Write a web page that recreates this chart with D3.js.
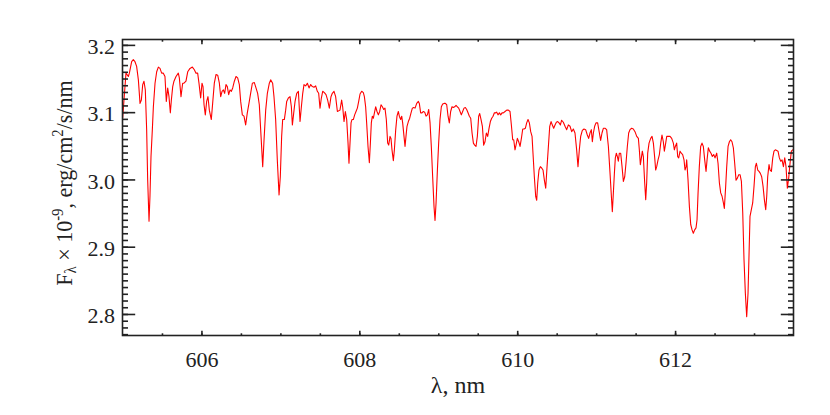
<!DOCTYPE html>
<html>
<head>
<meta charset="utf-8">
<script src="https://cdn.jsdelivr.net/npm/d3@7"></script>
<style>
  body { margin: 0; background: #fff; }
</style>
</head>
<body>
<script>
// Spectrum (nm, flux x 1e-9).
var wavelength = [
  605.002, 605.044, 605.074, 605.087, 605.116, 605.137, 605.158, 605.179, 605.201, 605.222,
  605.239, 605.256, 605.272, 605.289, 605.306, 605.319, 605.336, 605.348, 605.361, 605.378,
  605.391, 605.412, 605.433, 605.454, 605.475, 605.496, 605.517, 605.538, 605.555, 605.572,
  605.589, 605.606, 605.619, 605.636, 605.652, 605.678, 605.707, 605.720, 605.741, 605.762,
  605.779, 605.804, 605.826, 605.855, 605.885, 605.910, 605.931, 605.952, 605.969, 605.990,
  606.007, 606.020, 606.033, 606.049, 606.066, 606.083, 606.100, 606.125, 606.142, 606.163,
  606.185, 606.206, 606.227, 606.244, 606.261, 606.278, 606.294, 606.311, 606.328, 606.345,
  606.362, 606.379, 606.396, 606.417, 606.438, 606.459, 606.480, 606.497, 606.518, 606.539,
  606.560, 606.581, 606.602, 606.623, 606.645, 606.670, 606.691, 606.712, 606.733, 606.755,
  606.776, 606.793, 606.814, 606.835, 606.860, 606.877, 606.902, 606.919, 606.940, 606.961,
  606.983, 606.999, 607.016, 607.029, 607.050, 607.067, 607.080, 607.101, 607.122, 607.139,
  607.152, 607.169, 607.186, 607.207, 607.228, 607.249, 607.266, 607.283, 607.299, 607.320,
  607.342, 607.363, 607.384, 607.405, 607.426, 607.447, 607.468, 607.485, 607.502, 607.519,
  607.536, 607.557, 607.578, 607.599, 607.620, 607.641, 607.658, 607.679, 607.700, 607.722,
  607.755, 607.776, 607.789, 607.806, 607.823, 607.840, 607.857, 607.869, 607.882, 607.895,
  607.907, 607.924, 607.941, 607.958, 607.975, 607.992, 608.009, 608.030, 608.051, 608.064,
  608.080, 608.093, 608.110, 608.127, 608.140, 608.152, 608.165, 608.178, 608.195, 608.207,
  608.224, 608.241, 608.258, 608.275, 608.292, 608.309, 608.325, 608.342, 608.359, 608.372,
  608.389, 608.401, 608.414, 608.431, 608.444, 608.461, 608.477, 608.494, 608.507, 608.524,
  608.537, 608.549, 608.566, 608.579, 608.591, 608.604, 608.621, 608.638, 608.655, 608.672,
  608.689, 608.706, 608.727, 608.748, 608.760, 608.777, 608.794, 608.811, 608.828, 608.845,
  608.862, 608.879, 608.896, 608.912, 608.929, 608.946, 608.959, 608.972, 608.989, 609.005,
  609.022, 609.039, 609.056, 609.073, 609.090, 609.107, 609.124, 609.140, 609.157, 609.174,
  609.191, 609.208, 609.225, 609.242, 609.259, 609.276, 609.292, 609.309, 609.326, 609.343,
  609.360, 609.377, 609.394, 609.411, 609.428, 609.445, 609.461, 609.478, 609.495, 609.512,
  609.525, 609.542, 609.559, 609.575, 609.592, 609.609, 609.626, 609.643, 609.660, 609.677,
  609.694, 609.711, 609.727, 609.740, 609.757, 609.774, 609.791, 609.808, 609.825, 609.846,
  609.867, 609.888, 609.909, 609.926, 609.943, 609.956, 609.972, 609.985, 610.002, 610.019,
  610.036, 610.053, 610.070, 610.087, 610.103, 610.120, 610.137, 610.154, 610.171, 610.188,
  610.200, 610.217, 610.234, 610.247, 610.260, 610.276, 610.293, 610.310, 610.327, 610.344,
  610.361, 610.378, 610.395, 610.412, 610.429, 610.445, 610.462, 610.479, 610.496, 610.513,
  610.530, 610.547, 610.563, 610.584, 610.606, 610.627, 610.648, 610.669, 610.690, 610.711,
  610.732, 610.753, 610.770, 610.787, 610.804, 610.825, 610.846, 610.867, 610.888, 610.905,
  610.922, 610.939, 610.952, 610.965, 610.981, 610.998, 611.019, 611.041, 611.057, 611.074,
  611.091, 611.112, 611.133, 611.155, 611.176, 611.193, 611.205, 611.218, 611.231, 611.243,
  611.256, 611.269, 611.281, 611.294, 611.311, 611.328, 611.345, 611.362, 611.378, 611.395,
  611.412, 611.429, 611.450, 611.471, 611.492, 611.514, 611.535, 611.547, 611.560, 611.573,
  611.585, 611.598, 611.615, 611.628, 611.640, 611.653, 611.670, 611.691, 611.708, 611.725,
  611.742, 611.754, 611.767, 611.784, 611.801, 611.818, 611.834, 611.851, 611.864, 611.881,
  611.894, 611.915, 611.936, 611.957, 611.978, 611.991, 612.003, 612.020, 612.033, 612.046,
  612.063, 612.079, 612.096, 612.113, 612.126, 612.139, 612.147, 612.164, 612.181, 612.198,
  612.215, 612.231, 612.248, 612.265, 612.278, 612.291, 612.307, 612.324, 612.341, 612.358,
  612.375, 612.392, 612.405, 612.421, 612.438, 612.455, 612.472, 612.489, 612.506, 612.527,
  612.544, 612.561, 612.578, 612.595, 612.612, 612.624, 612.641, 612.654, 612.671, 612.688,
  612.704, 612.721, 612.738, 612.755, 612.772, 612.789, 612.806, 612.823, 612.840, 612.857,
  612.873, 612.890, 612.907, 612.924, 612.937, 612.949, 612.966, 612.983, 613.000, 613.017,
  613.030, 613.047, 613.063, 613.080, 613.097, 613.114, 613.131, 613.148, 613.161, 613.173,
  613.190, 613.203, 613.220, 613.237, 613.253, 613.270, 613.287, 613.304, 613.321, 613.338,
  613.355, 613.372, 613.389, 613.405, 613.422, 613.439, 613.456, 613.473, 613.490, 613.498
];
var flux = [
  3.091, 3.158, 3.153, 3.158, 3.175, 3.178, 3.175, 3.168, 3.148, 3.113,
  3.118, 3.141, 3.146, 3.133, 3.074, 2.999, 2.938, 2.975, 3.034, 3.074,
  3.108, 3.143, 3.160, 3.167, 3.165, 3.158, 3.158, 3.153, 3.116, 3.136,
  3.123, 3.099, 3.118, 3.138, 3.146, 3.153, 3.158, 3.151, 3.123, 3.143,
  3.143, 3.146, 3.160, 3.165, 3.167, 3.163, 3.158, 3.158, 3.143, 3.121,
  3.143, 3.138, 3.111, 3.096, 3.116, 3.123, 3.103, 3.089, 3.113, 3.143,
  3.156, 3.155, 3.143, 3.123, 3.131, 3.133, 3.128, 3.141, 3.138, 3.126,
  3.133, 3.131, 3.136, 3.146, 3.153, 3.151, 3.141, 3.116, 3.096, 3.094,
  3.081, 3.099, 3.113, 3.128, 3.143, 3.144, 3.136, 3.128, 3.111, 3.064,
  3.019, 3.059, 3.103, 3.128, 3.143, 3.148, 3.143, 3.123, 3.089, 3.029,
  2.977, 3.004, 3.064, 3.089, 3.089, 3.103, 3.116, 3.121, 3.123, 3.108,
  3.081, 3.099, 3.116, 3.128, 3.131, 3.086, 3.108, 3.128, 3.141, 3.139,
  3.143, 3.136, 3.141, 3.138, 3.137, 3.139, 3.131, 3.128, 3.106, 3.121,
  3.131, 3.129, 3.126, 3.118, 3.106, 3.123, 3.128, 3.131, 3.123, 3.101,
  3.103, 3.118, 3.108, 3.086, 3.101, 3.089, 3.054, 3.024, 3.054, 3.084,
  3.089, 3.089, 3.096, 3.101, 3.106, 3.116, 3.127, 3.131, 3.129, 3.123,
  3.108, 3.084, 3.049, 3.025, 3.054, 3.084, 3.094, 3.091, 3.101, 3.108,
  3.101, 3.096, 3.101, 3.111, 3.108, 3.104, 3.106, 3.089, 3.054, 3.051,
  3.064, 3.061, 3.044, 3.028, 3.044, 3.074, 3.094, 3.101, 3.094, 3.089,
  3.094, 3.084, 3.064, 3.049, 3.064, 3.079, 3.086, 3.091, 3.099, 3.106,
  3.107, 3.106, 3.113, 3.116, 3.113, 3.099, 3.099, 3.101, 3.100, 3.094,
  3.096, 3.104, 3.084, 3.049, 3.004, 2.960, 2.939, 2.965, 3.014, 3.054,
  3.089, 3.108, 3.112, 3.113, 3.113, 3.111, 3.094, 3.084, 3.101, 3.108,
  3.107, 3.108, 3.110, 3.108, 3.106, 3.101, 3.096, 3.101, 3.106, 3.107,
  3.104, 3.099, 3.094, 3.091, 3.069, 3.054, 3.051, 3.049, 3.064, 3.094,
  3.098, 3.089, 3.079, 3.051, 3.056, 3.069, 3.064, 3.076, 3.086, 3.091,
  3.094, 3.099, 3.099, 3.100, 3.096, 3.099, 3.096, 3.099, 3.099, 3.101,
  3.103, 3.103, 3.101, 3.081, 3.059, 3.059, 3.044, 3.051, 3.061, 3.056,
  3.049, 3.061, 3.075, 3.075, 3.076, 3.084, 3.089, 3.084, 3.071, 3.064,
  3.039, 3.004, 2.975, 2.969, 2.995, 3.014, 3.019, 3.017, 3.014, 2.999,
  2.987, 3.019, 3.049, 3.079, 3.086, 3.081, 3.076, 3.081, 3.085, 3.086,
  3.084, 3.081, 3.088, 3.085, 3.079, 3.074, 3.081, 3.079, 3.071, 3.075,
  3.069, 3.044, 3.019, 3.044, 3.064, 3.073, 3.075, 3.074, 3.066, 3.061,
  3.069, 3.074, 3.056, 3.069, 3.079, 3.084, 3.084, 3.069, 3.058, 3.069,
  3.076, 3.076, 3.074, 3.049, 3.009, 2.975, 2.952, 2.980, 3.009, 3.032,
  3.039, 3.034, 3.027, 3.039, 3.039, 3.019, 2.997, 3.004, 3.024, 3.049,
  3.069, 3.074, 3.076, 3.075, 3.071, 3.064, 3.061, 3.044, 3.022, 3.032,
  3.042, 3.034, 2.995, 2.970, 2.995, 3.039, 3.054, 3.061, 3.064, 3.054,
  3.032, 3.014, 3.019, 3.029, 3.037, 3.054, 3.066, 3.056, 3.042, 3.054,
  3.064, 3.064, 3.064, 3.061, 3.054, 3.044, 3.049, 3.054, 3.034, 3.032,
  3.042, 3.039, 3.037, 3.029, 3.014, 3.019, 3.029, 2.999, 2.960, 2.933,
  2.925, 2.920, 2.925, 2.928, 2.940, 2.980, 3.019, 3.049, 3.054, 3.049,
  3.029, 3.012, 3.029, 3.047, 3.042, 3.039, 3.034, 3.037, 3.032, 3.039,
  3.024, 2.995, 2.980, 2.975, 2.965, 2.957, 2.990, 3.019, 3.049, 3.056,
  3.059, 3.056, 3.047, 3.024, 2.999, 3.002, 3.007, 3.007, 2.997, 2.950,
  2.881, 2.831, 2.796, 2.831, 2.890, 2.945, 2.955, 2.965, 2.990, 3.019,
  3.024, 3.014, 3.012, 3.009, 3.004, 2.990, 2.970, 2.955, 2.975, 3.004,
  3.022, 3.014, 3.012, 3.032, 3.042, 3.044, 3.043, 3.042, 3.032, 3.027,
  3.029, 3.019, 3.032, 3.019, 2.987, 3.002, 3.024, 3.042, 3.044, 3.044
];
var xMajorTicks = [606, 608, 610, 612];
var xLabelTicks = [606, 608, 610, 612];
var yMajorTicks = [2.8, 2.9, 3.0, 3.1, 3.2];

// Plot box and scales.
var width   = 830,
    height  = 415,
    plotL   = 122.5,
    plotR   = 793.5,
    plotT   = 39.5,
    plotB   = 335.5,
    ink     = "#222",
    font    = "Liberation Serif, Times New Roman, serif";

var x = d3.scaleLinear().domain([605, 613.5]).range([plotL, plotR]);
var y = d3.scaleLinear().domain([2.768, 3.208]).range([plotB, plotT]);

var svg = d3.select("body")
    .append("svg")
    .attr("width", width)
    .attr("height", height)
    .style("background", "#fff");

svg.append("defs").append("clipPath")
    .attr("id", "plot")
  .append("rect")
    .attr("x", plotL)
    .attr("y", plotT)
    .attr("width", plotR - plotL)
    .attr("height", plotB - plotT);

// Spectrum line.
var points = wavelength.map(function(w, i) { return [w, flux[i]]; });
var line = d3.line()
    .x(function(d) { return x(d[0]); })
    .y(function(d) { return y(d[1]); });

svg.append("path")
    .datum(points)
    .attr("clip-path", "url(#plot)")
    .attr("d", line)
    .attr("fill", "none")
    .attr("stroke", "#ff0000")
    .attr("stroke-width", 1.1)
    .attr("stroke-linejoin", "round");

// Ticks on all four sides, pointing inwards.
var xMinor = d3.range(1211, 1227).map(function(d) { return d / 2; });
var yMinor = d3.range(277, 321).map(function(d) { return d / 100; });

function addAxis(axis, tx, ty) {
  var g = svg.append("g")
      .attr("transform", "translate(" + tx + "," + ty + ")")
      .call(axis);
  g.select(".domain").remove();
  g.attr("font-family", font).attr("font-size", 22);
  g.selectAll(".tick line").attr("stroke", ink).attr("stroke-width", 1.6);
  g.selectAll("text").attr("fill", ink);
  return g;
}

addAxis(d3.axisBottom(x).tickValues(xMinor).tickSize(-2.2).tickFormat(""), 0, plotB);
addAxis(d3.axisTop(x).tickValues(xMinor).tickSize(-2.2).tickFormat(""), 0, plotT);
addAxis(d3.axisBottom(x).tickValues(xMajorTicks).tickSize(-4.7).tickFormat(""), 0, plotB);
addAxis(d3.axisTop(x).tickValues(xMajorTicks).tickSize(-4.7).tickFormat(""), 0, plotT);
addAxis(d3.axisBottom(x).tickValues(xLabelTicks).tickSize(0).tickPadding(16)
    .tickFormat(d3.format("d")), 0, plotB);

addAxis(d3.axisLeft(y).tickValues(yMinor).tickSize(-5.5).tickFormat(""), plotL, 0);
addAxis(d3.axisRight(y).tickValues(yMinor).tickSize(-5.5).tickFormat(""), plotR, 0);
addAxis(d3.axisLeft(y).tickValues(yMajorTicks).tickSize(-12.7).tickFormat(""), plotL, 0);
addAxis(d3.axisRight(y).tickValues(yMajorTicks).tickSize(-12.7).tickFormat(""), plotR, 0);
addAxis(d3.axisLeft(y).tickValues(yMajorTicks).tickSize(0).tickPadding(7.5)
    .tickFormat(d3.format(".1f")), plotL, 0)
  .selectAll("text").attr("dy", "0.39em");

// Frame.
svg.append("rect")
    .attr("x", plotL)
    .attr("y", plotT)
    .attr("width", plotR - plotL)
    .attr("height", plotB - plotT)
    .attr("fill", "none")
    .attr("stroke", ink)
    .attr("stroke-width", 1.6);

// Axis titles.
svg.append("text")
    .attr("x", (plotL + plotR) / 2)
    .attr("y", 392.5)
    .attr("text-anchor", "middle")
    .attr("fill", ink)
    .attr("font-family", font)
    .attr("font-size", 24)
    .text("λ, nm");

var yTitle = svg.append("text")
    .attr("transform", "translate(72,183) rotate(-90) scale(0.92,1)")
    .attr("text-anchor", "middle")
    .attr("fill", ink)
    .attr("font-family", font)
    .attr("font-size", 24);

yTitle.append("tspan").text("F");
yTitle.append("tspan").attr("dy", 4).attr("font-size", 16).text("λ");
yTitle.append("tspan").attr("dy", -4).text(" × 10");
yTitle.append("tspan").attr("dy", -9).attr("font-size", 16).text("-9");
yTitle.append("tspan").attr("dy", 9).text(", erg/cm");
yTitle.append("tspan").attr("dy", -9).attr("font-size", 16).text("2");
yTitle.append("tspan").attr("dy", 9).text("/s/nm");
</script>
</body>
</html>
